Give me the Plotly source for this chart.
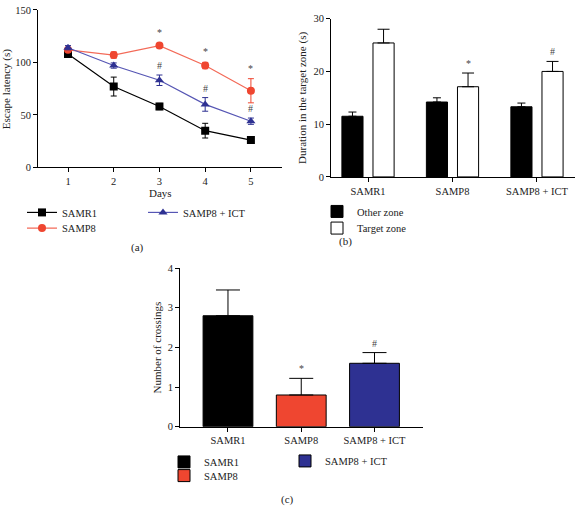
import plotly.graph_objects as go

W, H = 576, 509

# ---------------- data ----------------
days = [1, 2, 3, 4, 5]
samr1_lat = [108, 77, 58, 35, 26]
samr1_err = [3, 9, 3, 7, 2]
samp8_lat = [112, 107, 116, 97, 73]
samp8_err = [2, 3, 2, 3, 11.5]
ict_lat = [114, 97, 83, 60, 44]
ict_err = [2, 2.5, 5, 6.5, 3]

zone_groups = ["SAMR1", "SAMP8", "SAMP8 + ICT"]
other_zone = [11.5, 14.2, 13.3]
other_err = [0.8, 0.8, 0.7]
target_zone = [25.4, 17.1, 20.0]
target_err = [2.6, 2.6, 1.9]

cross_groups = ["SAMR1", "SAMP8", "SAMP8 + ICT"]
crossings = [2.8, 0.8, 1.6]
crossings_err = [0.65, 0.42, 0.27]

# significance marks
sig_a = [("SAMP8", 3, "*"), ("SAMP8", 4, "*"), ("SAMP8", 5, "*"),
         ("ICT", 3, "#"), ("ICT", 4, "#"), ("ICT", 5, "#")]
sig_b = [(1, "*"), (2, "#")]
sig_c = [(1, "*"), (2, "#")]

# ---------------- styles ----------------
FONT = "Liberation Serif, DejaVu Serif, serif"
TXT = "#222222"
BLACK = "#000000"
RED_M = "#EF4630"
RED_L = "#F36A58"
BLUE_M = "#2E3192"
BLUE_L = "#5656B4"


def px_x(p):
    return p / W


def px_y(p):
    return 1 - p / H


fig = go.Figure()

# ---------------- panel (a) ----------------
series_a = [
    ("SAMR1", samr1_lat, samr1_err, BLACK, BLACK, "square", "legend"),
    ("SAMP8", samp8_lat, samp8_err, RED_M, RED_L, "circle", "legend2"),
    ("SAMP8 + ICT", ict_lat, ict_err, BLUE_M, BLUE_L, "triangle-up", "legend3"),
]
for name, vals, errs, mc, lc, sym, lg in series_a:
    fig.add_trace(go.Scatter(
        x=days, y=vals, name=name, mode="lines+markers",
        line=dict(color=lc, width=1.2),
        marker=dict(color=mc, symbol=sym, size=8),
        error_y=dict(type="data", array=errs, color=mc, thickness=1, width=3),
        xaxis="x", yaxis="y", legend=lg,
    ))

# ---------------- panel (b) ----------------
idx = list(range(len(zone_groups)))
fig.add_trace(go.Bar(
    x=[i - 0.184 for i in idx], y=other_zone, width=0.25, name="Other zone",
    marker=dict(color=BLACK, line=dict(color=BLACK, width=1)),
    error_y=dict(type="data", symmetric=False, array=other_err,
                 arrayminus=[0] * 3, color=BLACK, thickness=1, width=4),
    xaxis="x2", yaxis="y2", legend="legend4",
))
fig.add_trace(go.Bar(
    x=[i + 0.184 for i in idx], y=target_zone, width=0.25, name="Target zone",
    marker=dict(color="white", line=dict(color=BLACK, width=1)),
    error_y=dict(type="data", symmetric=False, array=target_err,
                 arrayminus=[0] * 3, color=BLACK, thickness=1, width=6),
    xaxis="x2", yaxis="y2", legend="legend5",
))

# ---------------- panel (c) ----------------
colors_c = [BLACK, RED_M, BLUE_M]
legends_c = ["legend6", "legend7", "legend8"]
for i, g in enumerate(cross_groups):
    fig.add_trace(go.Bar(
        x=[i], y=[crossings[i]], width=0.68, name=g,
        marker=dict(color=colors_c[i], line=dict(color=BLACK, width=1)),
        error_y=dict(type="data", symmetric=False, array=[crossings_err[i]],
                     arrayminus=[0], color=BLACK, thickness=1, width=12),
        xaxis="x3", yaxis="y3", legend=legends_c[i],
    ))

# ---------------- axes ----------------
axis_common = dict(showline=True, linecolor=BLACK, linewidth=1, ticks="outside",
                   ticklen=4, tickwidth=1, tickcolor=BLACK, showgrid=False,
                   zeroline=False, tickfont=dict(family=FONT, size=10.5, color=TXT))

layout = dict(
    width=W, height=H, autosize=False,
    margin=dict(l=0, r=0, t=0, b=0),
    paper_bgcolor="white", plot_bgcolor="white",
    barmode="overlay", showlegend=True,
    font=dict(family=FONT, color=TXT),
    xaxis=dict(domain=[px_x(38), px_x(282)], range=[0.344, 5.68],
               tickvals=days, anchor="y", **axis_common),
    yaxis=dict(domain=[px_y(166), px_y(5)], range=[0, 150], tickvals=[0, 50, 100, 150],
               anchor="x", **axis_common),
    xaxis2=dict(domain=[px_x(331), px_x(575)], range=[-0.438, 2.45],
                tickvals=idx, ticktext=zone_groups, anchor="y2", **axis_common),
    yaxis2=dict(domain=[px_y(175.7), px_y(14)], range=[0, 30], tickvals=[0, 10, 20, 30],
                anchor="x2", **axis_common),
    xaxis3=dict(domain=[px_x(180), px_x(423)], range=[-0.655, 2.662],
                tickvals=idx, ticktext=cross_groups, anchor="y3", **axis_common),
    yaxis3=dict(domain=[px_y(431), px_y(269)], range=[0, 4], tickvals=[0, 1, 2, 3, 4],
                anchor="x3", **axis_common),
)

leg_font = dict(family=FONT, size=10.5, color=TXT)


def leg(xp, yp):
    return dict(x=px_x(xp), y=px_y(yp), xanchor="left", yanchor="middle",
                orientation="v", font=leg_font, bgcolor="rgba(0,0,0,0)",
                borderwidth=0, itemclick=False, itemdoubleclick=False,
                tracegroupgap=0)


layout["legend"] = leg(22, 212)
layout["legend2"] = leg(22, 228)
layout["legend3"] = leg(143, 212)
layout["legend4"] = leg(317, 211)
layout["legend5"] = leg(317, 228)
layout["legend6"] = leg(164, 467)
layout["legend7"] = leg(164, 481)
layout["legend8"] = leg(285, 466)

fig.update_layout(**layout)

# ---------------- annotations ----------------
ann = []
title_font = dict(family=FONT, size=11, color=TXT)


def pann(text, xp, yp, angle=0):
    return dict(text=text, x=px_x(xp), y=px_y(yp), xref="paper", yref="paper",
                xanchor="center", yanchor="middle", textangle=angle,
                showarrow=False, font=title_font)


ann.append(pann("Escape latency (s)", 6, 86, -90))
ann.append(pann("Days", 160, 192))
ann.append(pann("Duration in the target zone (s)", 303, 95, -90))
ann.append(pann("Number of crossings", 157, 350, -90))
for lbl, xp, yp in [("(a)", 137, 248), ("(b)", 345, 242), ("(c)", 287, 505)]:
    ann.append(pann(lbl, xp, yp))

sig_font = dict(family=FONT, size=10, color="#444444")
src = {"SAMP8": (samp8_lat, samp8_err), "ICT": (ict_lat, ict_err)}
for s, d, sym in sig_a:
    v, e = src[s]
    i = days.index(d)
    ann.append(dict(text=sym, x=d, y=v[i] + e[i], xref="x", yref="y", yanchor="bottom",
                    xanchor="center", yshift=3 if sym == "*" else 2, showarrow=False,
                    font=sig_font))
for i, sym in sig_b:
    ann.append(dict(text=sym, x=i + 0.184, y=target_zone[i] + target_err[i], xref="x2",
                    yref="y2", yanchor="bottom", xanchor="center", yshift=2,
                    showarrow=False, font=sig_font))
for i, sym in sig_c:
    ann.append(dict(text=sym, x=i, y=crossings[i] + crossings_err[i], xref="x3",
                    yref="y3", yanchor="bottom", xanchor="center", yshift=2,
                    showarrow=False, font=sig_font))

fig.update_layout(annotations=ann)

fig.write_html("out.html", config={"displayModeBar": False},
               post_script="document.body.style.margin='0';")
